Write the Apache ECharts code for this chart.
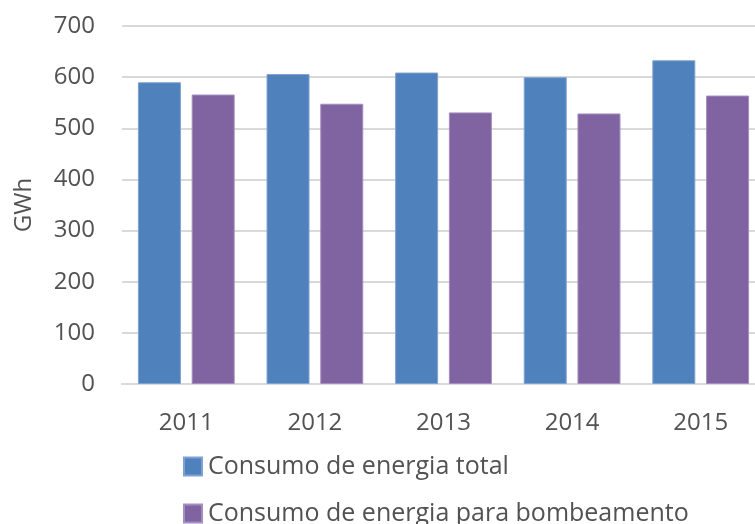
<!DOCTYPE html>
<html>
<head>
<meta charset="utf-8">
<style>
  html, body { margin: 0; padding: 0; background: #ffffff; }
  #chart { width: 755px; height: 524px; }
</style>
<script src="https://cdn.jsdelivr.net/npm/echarts@6/dist/echarts.min.js"></script>
</head>
<body>
<div id="chart"></div>
<script>
// Annual energy consumption (GWh)
const years = ['2011', '2012', '2013', '2014', '2015'];
const totalConsumption = [590, 606, 609, 600, 633];
const pumpingConsumption = [566, 548, 531, 529, 564];
const seriesNames = ['Consumo de energia total', 'Consumo de energia para bombeamento'];
const yTicks = { min: 0, max: 700, step: 100 };

const textColor = '#525252';
const fontFamily = '"Open Sans", "Noto Sans", sans-serif';
const labelSize = 24;

const chart = echarts.init(document.getElementById('chart'), null, { renderer: 'canvas' });

// one legend block per row so the two entries stack at the bottom-left
function legendRow(name, top) {
  return {
    orient: 'horizontal',
    left: 183,
    top: top,
    itemWidth: 18,
    itemHeight: 18,
    icon: 'rect',
    padding: 0,
    textStyle: { fontFamily: fontFamily, fontSize: 25, color: textColor, padding: [0, 0, 0, 1] },
    data: [name]
  };
}

chart.setOption({
  animation: false,
  backgroundColor: '#ffffff',
  textStyle: { fontFamily: fontFamily, color: textColor },
  grid: { left: 122, top: 26, width: 643, bottom: 140, containLabel: false, outerBoundsMode: 'none' },
  legend: [legendRow(seriesNames[0], 454), legendRow(seriesNames[1], 501)],
  xAxis: {
    type: 'category',
    data: years,
    axisLine: { show: true, lineStyle: { color: '#d9d9d9', width: 2 } },
    axisTick: { show: false },
    axisLabel: { fontSize: labelSize, color: textColor, margin: 27, fontFamily: fontFamily }
  },
  yAxis: {
    type: 'value',
    min: yTicks.min,
    max: yTicks.max,
    interval: yTicks.step,
    name: 'GWh',
    nameLocation: 'middle',
    nameGap: 86,
    nameRotate: 90,
    nameTextStyle: { fontSize: labelSize, color: textColor, fontFamily: fontFamily },
    axisLine: { show: false },
    axisTick: { show: false },
    axisLabel: { fontSize: labelSize, color: textColor, margin: 27, fontFamily: fontFamily },
    splitLine: { lineStyle: { color: '#d9d9d9', width: 2 } }
  },
  series: [
    {
      name: seriesNames[0],
      type: 'bar',
      data: totalConsumption,
      barWidth: 43,
      barGap: '25%',
      itemStyle: { color: '#4f81bd', borderColor: '#7fa3d1', borderWidth: 1 }
    },
    {
      name: seriesNames[1],
      type: 'bar',
      data: pumpingConsumption,
      barWidth: 43,
      itemStyle: { color: '#8064a2', borderColor: '#a48dbf', borderWidth: 1 }
    }
  ]
});
</script>
</body>
</html>
